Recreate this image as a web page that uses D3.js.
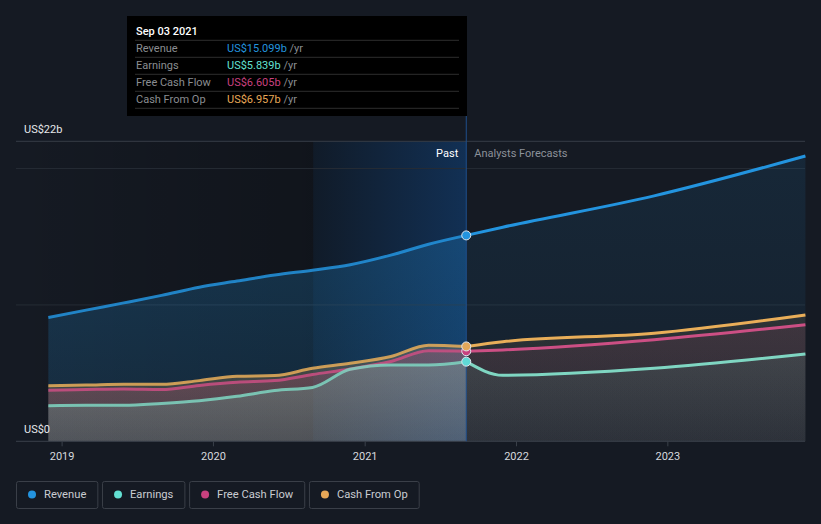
<!DOCTYPE html>
<html><head><meta charset="utf-8">
<script src="https://cdn.jsdelivr.net/npm/d3@7"></script>
<style>
html,body{margin:0;padding:0;background:#151a23;}
svg{display:block;font-family:Roboto,"Noto Sans",sans-serif;}
</style></head>
<body><svg id="c" width="821" height="524"></svg>
<script>
// ---- data ----
const pastDates = ["2018-11-30","2019-03-01","2019-05-31","2019-08-30","2019-11-29","2020-02-28","2020-05-29","2020-08-28","2020-11-27","2021-03-05","2021-06-04","2021-09-03"];
const revenuePast  = [9.08, 9.62, 10.15, 10.7, 11.3, 11.75, 12.2, 12.55, 12.95, 13.65, 14.45, 15.099];
const earningsPast = [2.61, 2.64, 2.64, 2.78, 2.98, 3.3, 3.72, 3.95, 5.28, 5.6, 5.6, 5.839];
const fcfPast      = [3.75, 3.8, 3.84, 3.8, 4.1, 4.33, 4.45, 4.9, 5.3, 5.85, 6.64, 6.605];
const cfoPast      = [4.08, 4.12, 4.18, 4.18, 4.45, 4.77, 4.82, 5.35, 5.72, 6.22, 7.05, 6.957];

const fcDates = ["2021-09-03","2021-11-30","2022-11-30","2023-11-30"];
const revenueFc  = [15.099, 15.7, 18.0, 20.92];
const earningsFc = [5.839, 4.84, 5.35, 6.4];
const fcfFc      = [6.605, 6.7, 7.45, 8.55];
const cfoFc      = [6.957, 7.3, 7.92, 9.26];

const seriesNames = ["Revenue","Earnings","Free Cash Flow","Cash From Op"];
const tooltipValues = ["US$15.099b","US$5.839b","US$6.605b","US$6.957b"];
const tooltipDate = "Sep 03 2021";
const yTickLabels = ["US$0","US$22b"];
const yTickValues = [0, 22];
const gridValues = [10, 20, 22];

// ---- styles ----
const colors = {Revenue:"#2394df", Earnings:"#7fd6c2", "Free Cash Flow":"#cc4f84", "Cash From Op":"#e9ae59"};
const legendColors = {Revenue:"#2394df", Earnings:"#63e0d2", "Free Cash Flow":"#c8417f", "Cash From Op":"#e8a857"};

const parse = d3.timeParse("%Y-%m-%d");
const svg = d3.select("#c");
const defs = svg.append("defs");

const x = d3.scaleTime().domain([new Date(2018,8,13), new Date(2023,10,29)]).range([16,805]);
const y = d3.scaleLinear().domain([0,22]).range([441.3,141.3]);

const plotTop = y(22), plotBot = y(0);
const splitDate = parse("2021-09-03");
const bandStart = parse("2020-08-30");
const xs = x(splitDate);

// background: past area darkening gradient
const gPast = defs.append("linearGradient").attr("id","gpast").attr("x1",0).attr("x2",1).attr("y1",0).attr("y2",0);
gPast.append("stop").attr("offset",0).attr("stop-color","#000").attr("stop-opacity",0.0);
gPast.append("stop").attr("offset",1).attr("stop-color","#000").attr("stop-opacity",0.22);
svg.append("rect").attr("x",16).attr("y",plotTop).attr("width",x(bandStart)-16).attr("height",plotBot-plotTop).attr("fill","url(#gpast)");

// highlight band
const gBand = defs.append("linearGradient").attr("id","gband").attr("x1",0).attr("x2",1).attr("y1",0).attr("y2",0);
gBand.append("stop").attr("offset",0).attr("stop-color","#1560b8").attr("stop-opacity",0.08);
gBand.append("stop").attr("offset",1).attr("stop-color","#1560b8").attr("stop-opacity",0.36);
svg.append("rect").attr("x",x(bandStart)).attr("y",plotTop).attr("width",xs-x(bandStart)).attr("height",plotBot-plotTop).attr("fill","#10151c");
svg.append("rect").attr("x",x(bandStart)).attr("y",plotTop).attr("width",xs-x(bandStart)).attr("height",plotBot-plotTop).attr("fill","url(#gband)");

// gridlines
gridValues.forEach(v=>{
  svg.append("line").attr("x1",16).attr("x2",805).attr("y1",y(v)).attr("y2",y(v))
    .attr("stroke", v===22 ? "#363c46" : "#262c35").attr("stroke-width",1);
});

function mk(dates, vals){ return dates.map((d,i)=>({date:parse(d), v:vals[i]})); }
const past = {
  "Revenue": mk(pastDates, revenuePast),
  "Cash From Op": mk(pastDates, cfoPast),
  "Free Cash Flow": mk(pastDates, fcfPast),
  "Earnings": mk(pastDates, earningsPast)
};
const fc = {
  "Revenue": mk(fcDates, revenueFc),
  "Cash From Op": mk(fcDates, cfoFc),
  "Free Cash Flow": mk(fcDates, fcfFc),
  "Earnings": mk(fcDates, earningsFc)
};
const order = ["Revenue","Cash From Op","Free Cash Flow","Earnings"];

const area = d3.area().x(d=>x(d.date)).y0(y(0)).y1(d=>y(d.v)).curve(d3.curveMonotoneX);
const line = d3.line().x(d=>x(d.date)).y(d=>y(d.v)).curve(d3.curveMonotoneX);

function grad(id, color, a0, a1){
  const g = defs.append("linearGradient").attr("id",id).attr("x1",0).attr("x2",0).attr("y1",0).attr("y2",1);
  g.append("stop").attr("offset",0).attr("stop-color",color).attr("stop-opacity",a0);
  g.append("stop").attr("offset",1).attr("stop-color",color).attr("stop-opacity",a1);
}
order.forEach((k,i)=>{
  grad("gp"+i, colors[k], 0.24, 0.14);
  grad("gf"+i, colors[k], 0.11, 0.05);
  svg.append("path").datum(past[k]).attr("d",area).attr("fill","url(#gp"+i+")");
  svg.append("path").datum(fc[k]).attr("d",area).attr("fill","url(#gf"+i+")");
});

// lines
order.forEach(k=>{
  svg.append("path").datum(past[k]).attr("d",line).attr("fill","none")
    .attr("stroke",colors[k]).attr("stroke-width",3).attr("stroke-opacity",0.85);
  svg.append("path").datum(fc[k]).attr("d",line).attr("fill","none")
    .attr("stroke",colors[k]).attr("stroke-width",3);
});

// baseline & axis
svg.append("line").attr("x1",16).attr("x2",805).attr("y1",plotBot).attr("y2",plotBot).attr("stroke","#3a404a");
const xAxis = d3.axisBottom(x).ticks(d3.timeYear.every(1)).tickSize(5).tickFormat(d3.timeFormat("%Y"));
const ax = svg.append("g").attr("transform",`translate(0,${plotBot})`).call(xAxis);
ax.select(".domain").remove();
ax.selectAll(".tick line").attr("stroke","#3a404a");
ax.selectAll(".tick text").attr("fill","#d6d9de").attr("font-size",11).attr("dy","0.95em")
  .attr("font-family","Roboto,sans-serif");

// y labels
yTickValues.forEach((v,i)=>{
  svg.append("text").attr("x",24).attr("y",y(v)-8).text(yTickLabels[i])
    .attr("fill","#e6e8eb").attr("font-size",11);
});

// past / forecast labels
svg.append("text").attr("x",xs-8).attr("y",157).attr("text-anchor","end").text("Past")
  .attr("fill","#ffffff").attr("font-size",11);
svg.append("text").attr("x",xs+8).attr("y",157).text("Analysts Forecasts")
  .attr("fill","#8c9199").attr("font-size",11);

// vertical marker line
svg.append("line").attr("x1",xs).attr("x2",xs).attr("y1",116).attr("y2",plotBot)
  .attr("stroke","#1f4f8c").attr("stroke-width",1);

// markers
const markerFill = {Revenue:"#2394df", Earnings:"#5fd9d6", "Free Cash Flow":"#c8417f", "Cash From Op":"#e3a85a"};
["Earnings","Free Cash Flow","Cash From Op","Revenue"].forEach(k=>{
  const d = past[k][past[k].length-1];
  svg.append("circle").attr("cx",x(d.date)).attr("cy",y(d.v)).attr("r",4.5)
    .attr("fill",markerFill[k]).attr("stroke","#dfe6ee").attr("stroke-width",1);
});

// tooltip
const tt = svg.append("g");
tt.append("rect").attr("x",127).attr("y",16).attr("width",340).attr("height",100).attr("fill","#000");
tt.append("text").attr("x",136).attr("y",35).text(tooltipDate).attr("fill","#fff").attr("font-size",11).attr("font-weight",500);
[40.3,57.3,74.3,91.3,108.3].forEach(yy=>{
  tt.append("line").attr("x1",135).attr("x2",459).attr("y1",yy).attr("y2",yy).attr("stroke","#2e2e2e").attr("stroke-width",1);
});
seriesNames.forEach((k,i)=>{
  const yy = 52 + i*17;
  tt.append("text").attr("x",136).attr("y",yy).text(k).attr("fill","#8a8d91").attr("font-size",11);
  const t = tt.append("text").attr("x",227).attr("y",yy).attr("font-size",11);
  t.append("tspan").text(tooltipValues[i]).attr("fill",legendColors[k]);
  t.append("tspan").text(" /yr").attr("fill","#8a8d91");
});

// legend
let lx = 16;
seriesNames.forEach(k=>{
  const g = svg.append("g");
  const txt = g.append("text").attr("x",lx+28).attr("y",498).text(k).attr("fill","#c9ccd1").attr("font-size",11.2);
  const w = txt.node().getComputedTextLength();
  const bw = 28 + w + 11;
  g.insert("rect","text").attr("x",lx+0.5).attr("y",481.5).attr("width",bw).attr("height",27).attr("rx",2)
    .attr("fill","none").attr("stroke","#3a3f48");
  g.append("circle").attr("cx",lx+16).attr("cy",494.5).attr("r",4).attr("fill",legendColors[k]);
  lx += bw + 4.7;
});
</script></body></html>
